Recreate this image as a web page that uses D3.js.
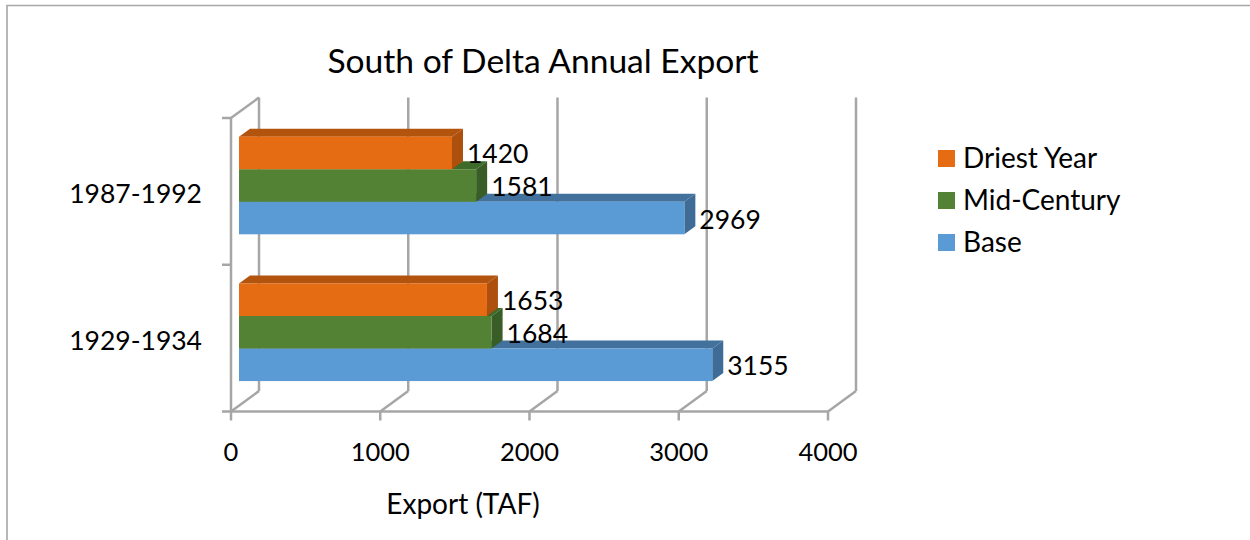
<!DOCTYPE html>
<html>
<head>
<meta charset="utf-8">
<script src="https://cdn.jsdelivr.net/npm/d3@7/dist/d3.min.js"></script>
<style>
html,body{margin:0;padding:0;background:#fff}
svg{display:block}
text{font-family:Lato,"Open Sans",sans-serif;fill:#000}
</style>
</head>
<body>
<svg id="c" width="1250" height="540"></svg>
<script>
const categories = ["1987-1992", "1929-1934"];
const seriesNames = ["Driest Year", "Mid-Century", "Base"];
const driestYear = [1420, 1653];
const midCentury = [1581, 1684];
const base = [2969, 3155];
const xTicks = [0, 1000, 2000, 3000, 4000];
const colors = ["#E66C13", "#548235", "#5B9BD5"];
const topColors = ["#B3540E", "#3F6B2A", "#41719C"];
const sideColors = ["#AD500D", "#385D26", "#3E6C97"];

const svg = d3.select("#c");
const grid = "#a6a6a6";
const x = d3.scaleLinear().domain([0, 4000]).range([231, 828]);
const barX = d3.scaleLinear().domain([0, 4000]).range([239, 839]);
const y = d3.scaleBand().domain(categories).range([118, 411.5]);
const depthX = 28, depthY = 20.5, barDx = 11, barDy = 8;

// frame
svg.append("path").attr("d", "M7,540V5.5H1250").attr("fill", "none")
  .attr("stroke", grid).attr("stroke-width", 1.6);

// title
svg.append("text").attr("x", 543).attr("y", 72.5).attr("text-anchor", "middle")
  .attr("font-size", 33.6).text("South of Delta Annual Export");

// walls and floor
const g = svg.append("g").attr("fill", "none").attr("stroke", grid).attr("stroke-width", 2.5);
const y0 = y.range()[1], yTop = y.range()[0];
xTicks.forEach(t => {
  const px = x(t);
  g.append("line").attr("x1", px + depthX).attr("x2", px + depthX).attr("y1", yTop - depthY).attr("y2", y0 - depthY);
  g.append("line").attr("x1", px).attr("x2", px + depthX).attr("y1", y0).attr("y2", y0 - depthY);
  g.append("line").attr("x1", px).attr("x2", px).attr("y1", y0).attr("y2", y0 + 9);
});
g.append("line").attr("x1", x(0)).attr("x2", x(4000)).attr("y1", y0).attr("y2", y0);
g.append("line").attr("x1", x(0)).attr("x2", x(0)).attr("y1", yTop).attr("y2", y0);
g.append("line").attr("x1", x(0)).attr("x2", x(0) + depthX).attr("y1", yTop).attr("y2", yTop - depthY);
[yTop, yTop + y.step(), y0].forEach(v => {
  g.append("line").attr("x1", x(0) - 9).attr("x2", x(0)).attr("y1", v).attr("y2", v);
});

// bars, back to front
const seriesValues = [driestYear, midCentury, base];
const barBand = d3.scaleBand().domain(seriesNames).range([18.7, 116.3]);
const bars = svg.append("g");
categories.forEach((c, ci) => {
  [2, 1, 0].forEach(si => {
    const v = seriesValues[si][ci];
    const x0 = barX(0), x1 = barX(v);
    const t = y(c) + barBand(seriesNames[si]), b = t + barBand.bandwidth();
    bars.append("path").attr("fill", topColors[si])
      .attr("d", `M${x0},${t}L${x0 + barDx},${t - barDy}H${x1 + barDx}L${x1},${t}Z`);
    bars.append("path").attr("fill", sideColors[si])
      .attr("d", `M${x1},${t}L${x1 + barDx},${t - barDy}V${b - barDy}L${x1},${b}Z`);
    bars.append("rect").attr("x", x0).attr("y", t).attr("width", x1 - x0).attr("height", b - t)
      .attr("fill", colors[si]);
  });
});
// data labels sit above every bar
const labels = svg.append("g");
categories.forEach((c, ci) => {
  seriesNames.forEach((n, si) => {
    const v = seriesValues[si][ci];
    const t = y(c) + barBand(n), b = t + barBand.bandwidth();
    labels.append("text").attr("x", barX(v) + 15).attr("y", (t + b) / 2 + 10.5)
      .attr("font-size", 26.5).text(v);
  });
});

// axis labels
xTicks.forEach(t => {
  svg.append("text").attr("x", x(t)).attr("y", 460.5).attr("text-anchor", "middle")
    .attr("font-size", 25.5).text(t);
});
categories.forEach(c => {
  svg.append("text").attr("x", 202).attr("y", y(c) + y.bandwidth() / 2 + 12)
    .attr("text-anchor", "end").attr("font-size", 26.5).text(c);
});
svg.append("text").attr("x", 463).attr("y", 514).attr("text-anchor", "middle")
  .attr("font-size", 28).text("Export (TAF)");

// legend
seriesNames.forEach((n, i) => {
  const ly = 150 + i * 42;
  svg.append("rect").attr("x", 938).attr("y", ly).attr("width", 17).attr("height", 17).attr("fill", colors[i]);
  svg.append("text").attr("x", 963).attr("y", ly + 17.5).attr("font-size", 28).text(n);
});
</script>
</body>
</html>
